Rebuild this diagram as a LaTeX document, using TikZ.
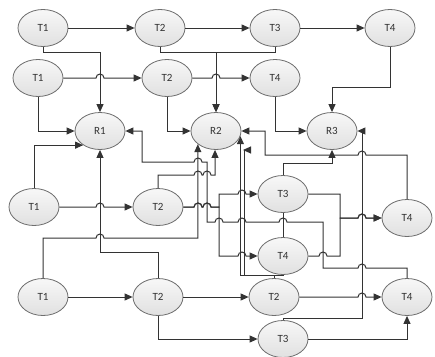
\documentclass[tikz,border=0pt]{standalone}
\usepackage{fontspec}
\setmainfont{Carlito}
\usetikzlibrary{arrows.meta,shapes.geometric}
\definecolor{lc}{HTML}{333333}
\definecolor{nb}{HTML}{6E6E6E}
\newcommand\jr[2]{-- ({#1-4},#2) arc[start angle=180,end angle=360,radius=4]}
\newcommand\jl[2]{-- ({#1+4},#2) arc[start angle=0,end angle=-180,radius=4]}
\begin{document}
\begin{tikzpicture}[x=1pt,y=-1pt,
  tn/.style={ellipse,draw=nb,line width=0.8pt,top color=gray!6,bottom color=gray!24,
    minimum width=50pt,minimum height=37pt,inner sep=0pt,font=\fontsize{11}{13}\selectfont,text=lc},
  ln/.style={draw=lc,line width=1pt},
  arr/.style={-{Triangle[length=8pt,width=7pt]}}]
\fill[white] (0,0) rectangle (435,356);
\useasboundingbox (0,0) rectangle (435,356);
% nodes
\node[tn] (A1) at (43,28) {T1};
\node[tn] (A2) at (160,28) {T2};
\node[tn] (A3) at (275,28) {T3};
\node[tn] (A4) at (390,28) {T4};
\node[tn] (B1) at (38,78) {T1};
\node[tn] (B2) at (167,78) {T2};
\node[tn] (B4) at (275,78) {T4};
\node[tn] (R1) at (100,131) {R1};
\node[tn] (R2) at (216,131) {R2};
\node[tn] (R3) at (332,131) {R3};
\node[tn] (C1) at (34,207) {T1};
\node[tn] (C2) at (158,207) {T2};
\node[tn] (C3) at (283,194) {T3};
\node[tn] (C4) at (407,218) {T4};
\node[tn] (D4) at (283,256) {T4};
\node[tn] (E1) at (43,297) {T1};
\node[tn] (E2) at (158,297) {T2};
\node[tn] (E3) at (274,297) {T2};
\node[tn] (E4) at (407,297) {T4};
\node[tn] (F3) at (283,339) {T3};
\coordinate (stub) at (243,150);
% top rows
\draw[ln,arr] (A1) -- (A2);
\draw[ln,arr] (A2) -- (A3);
\draw[ln,arr] (A3) -- (A4);
\draw[ln,arr] (A1.south) -- (43,52) -| (R1.north);
\draw[ln,arr] (A2.south) -- (160,52) -| (R2.north);
\draw[ln,arr] (A3.south) -- (275,52) -| (R2.north);
\draw[ln,arr] (A4.south) -- (390,87) -| (R3.north);
\draw[ln,arr] (B1.east) \jr{100}{78} -- (B2.west);
\draw[ln,arr] (B2.east) \jr{216}{78} -- (B4.west);
\draw[ln,arr] (B1.south) |- (R1.west);
\draw[ln,arr] (B2.south) |- (R2.west);
\draw[ln,arr] (B4.south) |- (R3.west);
% lower part
\draw[ln,arr] (C1.north) |- (R1.220);
\draw[ln,arr] (E2.north) -- (158,252) -| (R1.south);
\draw[ln,arr] (E1.north) -- (43,238) \jr{100}{238} -| (R2.216);
\draw[ln,arr] (C2.north) -- (158,175) \jr{198}{175} \jr{207}{175} -| (R2.267);
\draw[ln,arr] (E4.north) -- (407,268) \jl{362}{268} -- (323,268) -- (323,222) \jl{283}{222} \jl{242}{222} \jl{219}{222} -- (207,222) -- (207,162) \jl{198}{162} -- (142,162) |- (R1.east);
\draw[ln,arr] (C1.east) \jr{100}{207} -- (C2.west);
\draw[ln,arr] (C2.east) \jr{198}{207} \jr{207}{207} -- (219,207) -- (219,194) \jr{242}{194} -- (C3.west);
\draw[ln,arr] (C2.east) \jr{198}{207} \jr{207}{207} -- (219,207) -- (219,256) \jr{242}{256} -- (D4.west);
\draw[ln,arr] (C4.north) -- (407,155) \jl{362}{155} -- (265,155) |- (R2.east);
\draw[ln,arr] (C3.north) -- (283,163) -| (R3.south);
\draw[ln,arr] (F3.north) -- (283,318) -- (362,318) |- (R3.east);
\draw[ln,arr] (C3.east) -- (340,194) -- (340,218) \jr{362}{218} -- (C4.west);
\draw[ln,arr] (D4.east) \jr{323}{256} -- (340,256) -- (340,218) \jr{362}{218} -- (C4.west);
\draw[ln] (C3.south) -- (D4.north);
\draw[ln,arr] (E3.north) -- (274,275) -| (R2.348);
\draw[ln,arr] (D4.south) -- (283,275) -- (244,275) -- (244,150) -- (stub);
\draw[ln,arr] (E1) -- (E2);
\draw[ln,arr] (E2) -- (E3);
\draw[ln,arr] (E3.east) \jr{362}{297} -- (E4.west);
\draw[ln,arr] (E2.south) |- (F3.west);
\draw[ln,arr] (F3.east) -| (E4.south);
\end{tikzpicture}
\end{document}
